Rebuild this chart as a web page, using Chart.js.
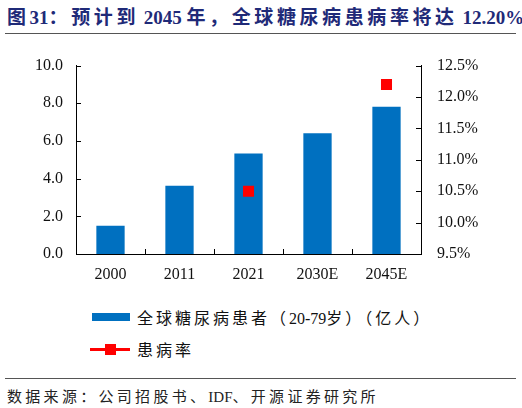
<!DOCTYPE html>
<html>
<head>
<meta charset="utf-8">
<script src="https://cdn.jsdelivr.net/npm/chart.js@4.4.1/dist/chart.umd.min.js"></script>
<style>
  html, body { margin: 0; padding: 0; background: #fff; }
  body { width: 522px; height: 408px; position: relative; overflow: hidden; }
  #title { position: absolute; left: 7px; top: 2px; font: bold 19px "Liberation Serif", "Noto Sans CJK SC", serif; color: #1F2A78; white-space: nowrap; letter-spacing: 3.6px; }
  .rule { position: absolute; left: 5px; width: 511px; height: 0; border-top: 1.5px solid #555; }
  #wrap { position: absolute; left: 0; top: 40px; width: 522px; height: 250px; }
  .leg { position: absolute; left: 88px; font: 16px "Liberation Serif", "Noto Sans CJK SC", serif; color: #111; white-space: nowrap; display: flex; align-items: center; letter-spacing: 3px; }
  .leg .sw { width: 44px; height: 14px; position: relative; margin-right: 5px; }
  #source { position: absolute; left: 7px; top: 385px; font: 15px "Liberation Serif", "Noto Sans CJK SC", serif; color: #222; white-space: nowrap; letter-spacing: 3.3px; }
  .lat { letter-spacing: 0; }
</style>
</head>
<body>
<div id="title"></div>
<div class="rule" style="top:33px"></div>
<div id="wrap"><canvas id="c"></canvas></div>
<div id="legend"></div>
<div class="rule" style="top:378px"></div>
<div id="source"></div>
<script>
/*------------------------------------*\
     Données
\*------------------------------------*/
var years = ['2000', '2011', '2021', '2030E', '2045E'];
var patients = [1.5, 3.62, 5.33, 6.41, 7.81];          // 亿人
var prevalence = [null, null, 10.5, null, 12.2];     // %
var leftTicks = [0, 2, 4, 6, 8, 10];
var rightTicks = [9.5, 10, 10.5, 11, 11.5, 12, 12.5];
var seriesNames = ['全球糖尿病患者（20-79岁）（亿人）', '患病率'];
var titleText = '图31：预计到 2045 年，全球糖尿病患病率将达 12.20%';
var sourceText = '数据来源：公司招股书、IDF、开源证券研究所';

var blue = '#0070C0';
var red = '#FF0000';
var serif = '"Liberation Serif", "Times New Roman", serif';

// les caractères latins gardent un espacement normal, seuls les CJK sont espacés
function spaced(txt) {
  return txt.replace(/[A-Za-z0-9.%\- ]+/g, function(m) { return '<span class="lat">' + m + '</span>'; });
}
document.getElementById('title').innerHTML = spaced(titleText);
document.getElementById('source').innerHTML = spaced(sourceText);

// petits traits de graduation vers l'intérieur
var innerTicks = {
  id: 'innerTicks',
  afterDraw: function(chart) {
    var ctx = chart.ctx;
    var a = chart.chartArea;
    ctx.save();
    ctx.strokeStyle = '#000';
    ctx.lineWidth = 1;
    ctx.beginPath();
    chart.scales.y.ticks.forEach(function(t) {
      var py = Math.round(chart.scales.y.getPixelForValue(t.value)) + 0.5;
      ctx.moveTo(a.left, py); ctx.lineTo(a.left + 5, py);
    });
    chart.scales.y1.ticks.forEach(function(t) {
      var py = Math.round(chart.scales.y1.getPixelForValue(t.value)) + 0.5;
      ctx.moveTo(a.right, py); ctx.lineTo(a.right - 5, py);
    });
    var xs = chart.scales.x;
    for (var i = 1; i < years.length; i++) {
      var px = Math.round((xs.getPixelForValue(i - 1) + xs.getPixelForValue(i)) / 2) + 0.5;
      ctx.moveTo(px, a.bottom); ctx.lineTo(px, a.bottom - 5);
    }
    ctx.stroke();
    ctx.restore();
  }
};

var chart = new Chart(document.getElementById('c').getContext('2d'), {
  data: {
    labels: years,
    datasets: [{
      type: 'bar',
      label: seriesNames[0],
      data: patients,
      backgroundColor: blue,
      borderWidth: 0,
      barPercentage: 0.41,
      categoryPercentage: 1,
      yAxisID: 'y',
      order: 2
    }, {
      type: 'line',
      label: seriesNames[1],
      data: prevalence,
      showLine: false,
      borderColor: red,
      backgroundColor: red,
      pointStyle: 'rect',
      pointRadius: 7.8,
      pointHoverRadius: 7.8,
      pointBorderWidth: 0,
      yAxisID: 'y1',
      order: 1
    }]
  },
  options: {
    responsive: true,
    maintainAspectRatio: false,
    animation: false,
    layout: { padding: { top: 10, bottom: 0, left: 0, right: 0 } },
    plugins: { legend: { display: false }, tooltip: { enabled: false } },
    scales: {
      x: {
        grid: { display: false, drawTicks: false },
        border: { color: '#000', width: 1 },
        ticks: { color: '#111', font: { family: serif, size: 16 }, padding: 11 },
        afterFit: function(s) { s.height = 36; }
      },
      y: {
        position: 'left',
        min: 0, max: 10,
        afterBuildTicks: function(s) { s.ticks = leftTicks.map(function(v) { return { value: v }; }); },
        grid: { display: false, drawTicks: false },
        border: { color: '#000', width: 1 },
        ticks: { color: '#111', font: { family: serif, size: 16 }, padding: 13,
          callback: function(v) { return v.toFixed(1); } },
        afterFit: function(s) { s.width = 76; }
      },
      y1: {
        position: 'right',
        min: 9.5, max: 12.5,
        afterBuildTicks: function(s) { s.ticks = rightTicks.map(function(v) { return { value: v }; }); },
        grid: { display: false, drawTicks: false },
        border: { color: '#000', width: 1 },
        ticks: { color: '#111', font: { family: serif, size: 16 }, padding: 16,
          callback: function(v) { return v.toFixed(1) + '%'; } },
        afterFit: function(s) { s.width = 101; }
      }
    }
  },
  plugins: [innerTicks]
});

/*------------------------------------*\
     Légende (HTML, deux lignes)
\*------------------------------------*/
var legend = document.getElementById('legend');
chart.data.datasets.forEach(function(ds, i) {
  var row = document.createElement('div');
  row.className = 'leg';
  row.style.top = (i === 0 ? 305 : 337) + 'px';
  var sw = document.createElement('span');
  sw.className = 'sw';
  if (ds.type === 'bar') {
    sw.innerHTML = '<span style="position:absolute;left:4px;top:3px;width:38px;height:8px;background:' + blue + '"></span>';
  } else {
    sw.innerHTML = '<span style="position:absolute;left:2px;top:5.5px;width:40px;height:3px;background:' + red + '"></span>' +
      '<span style="position:absolute;left:17px;top:1.5px;width:11px;height:11px;background:' + red + '"></span>';
  }
  row.appendChild(sw);
  var txt = document.createElement('span');
  txt.innerHTML = spaced(ds.label);
  row.appendChild(txt);
  legend.appendChild(row);
});
</script>
</body>
</html>
